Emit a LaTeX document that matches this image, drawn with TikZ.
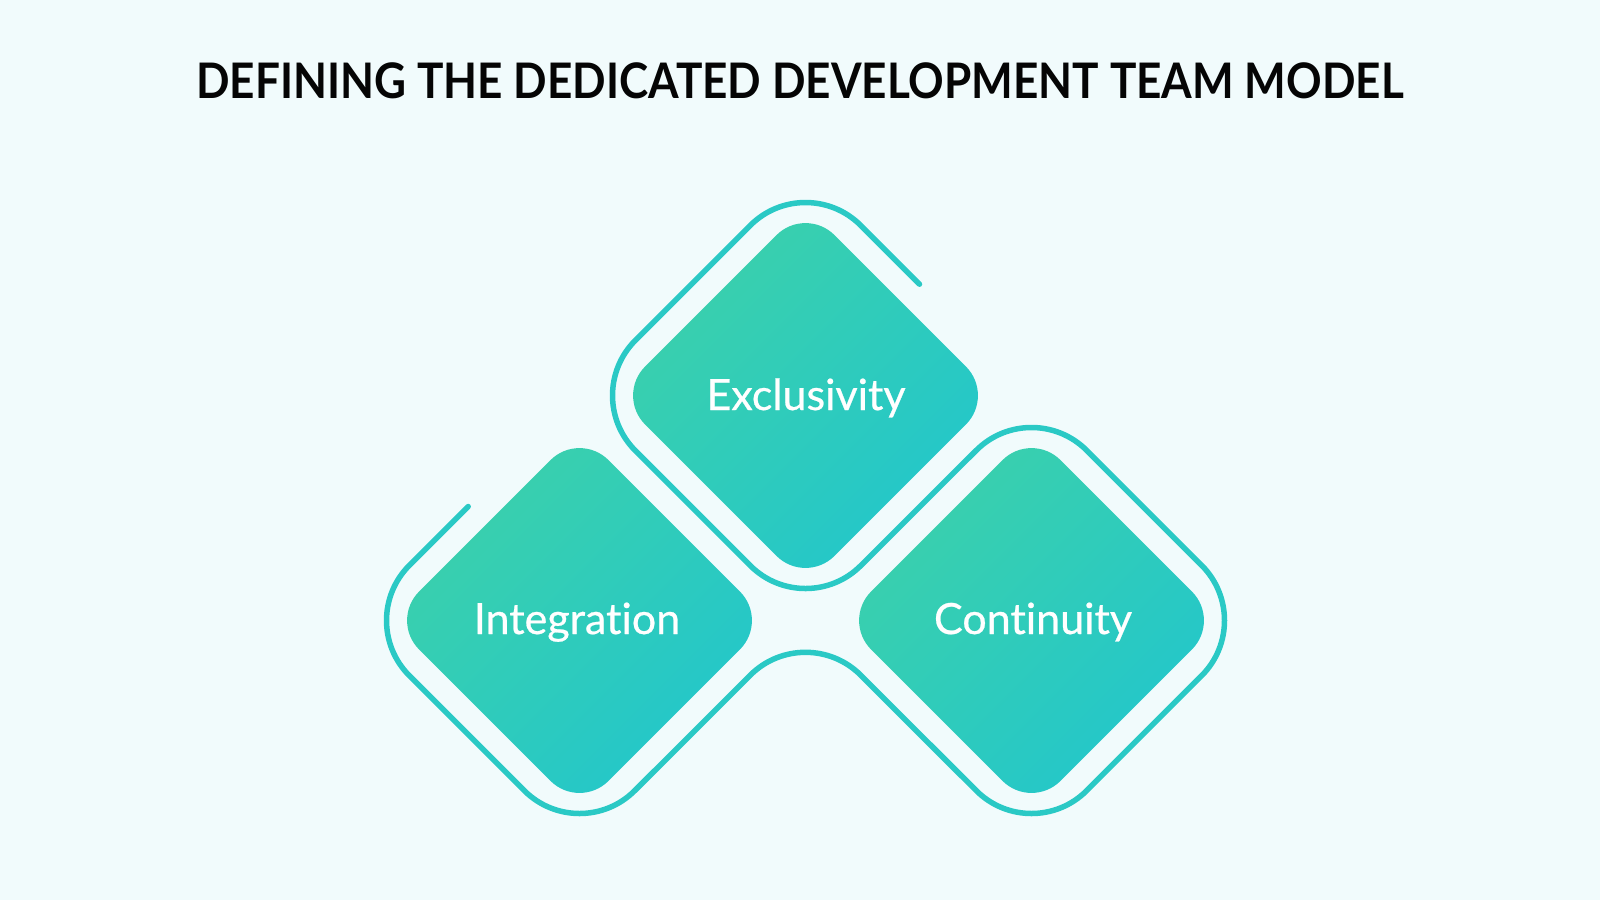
\documentclass[tikz,border=0pt]{standalone}
\usepackage{fontspec}
\setmainfont{Lato}[Ligatures=NoCommon]
\newfontfamily\lblfont{Lato}[Ligatures=NoCommon, FakeBold=0.6]
\begin{document}
\begin{tikzpicture}[x=1pt,y=-1pt]
\definecolor{bg}{RGB}{241,251,252}
\definecolor{gA}{RGB}{60,209,170}
\definecolor{gB}{RGB}{34,198,204}
\definecolor{outl}{RGB}{42,201,197}
\definecolor{ttl}{RGB}{5,5,5}
\tikzset{
  diamfill/.style={shade, top color=gA, bottom color=gB, shading angle=45, rounded corners=41pt},
  outline/.style={draw=outl, line width=5.5pt, line cap=round, rounded corners=78pt},
  lbl/.style={text=white, font=\lblfont\fontsize{43}{45}\selectfont, anchor=base, inner sep=0pt},
  ttlstyle/.style={text=ttl, font=\bfseries\fontsize{49}{50}\selectfont, anchor=base, inner sep=0pt}
}
\fill[bg] (0,0) rectangle (1600,900);
\useasboundingbox (0,0) rectangle (1600,900);
% filled diamonds
\foreach \cx/\cy in {805.5/395.5, 579.5/620.5, 1031.5/620.5}{
  \path[diamfill] (\cx,\cy-189.4) -- (\cx+189.4,\cy) -- (\cx,\cy+189.4) -- (\cx-189.4,\cy) -- cycle;
}
% outline path vertices
\coordinate (S) at (919.5,284.2);
\coordinate (Ttop) at (805.5,170.2);
\coordinate (Tleft) at (580.2,395.5);
\coordinate (Tbot) at (805.5,620.8);
\coordinate (Ctop) at (1031.5,395.2);
\coordinate (Cright) at (1256.8,620.5);
\coordinate (Cbot) at (1031.5,845.8);
\coordinate (B) at (805.5,620);
\coordinate (Ibot) at (579.5,845.8);
\coordinate (Ileft) at (354.2,620.5);
\coordinate (E) at (468.2,506.5);
\draw[outline] (S) -- (Ttop) -- (Tleft) -- (Tbot) -- (Ctop) -- (Cright) -- (Cbot) -- (B) -- (Ibot) -- (Ileft) -- (E);
% labels
\node[lbl] (lblT) at (806,410) {Exclusivity};
\node[lbl] (lblI) at (577,634) {Integration};
\node[lbl] (lblC) at (1033,634) {Continuity};
\node[ttlstyle] (title) at (800,98) {\scalebox{0.9}[1]{DEFINING THE DEDICATED DEVELOPMENT TEAM MODEL}};
\end{tikzpicture}
\end{document}
